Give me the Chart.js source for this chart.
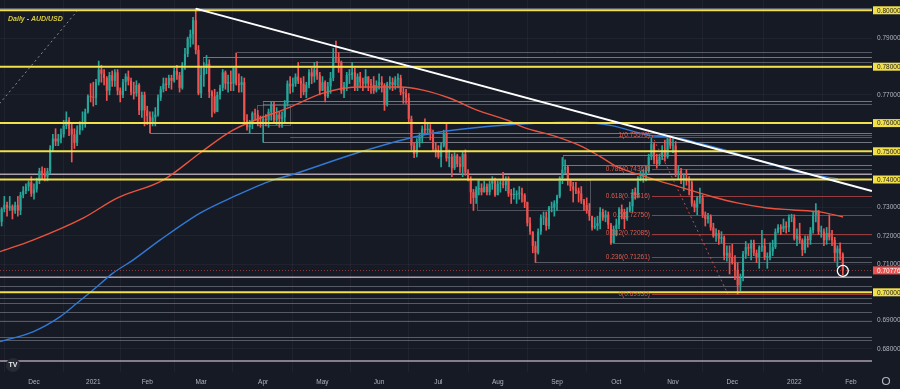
<!DOCTYPE html>
<html>
<head>
<meta charset="utf-8">
<script src="https://cdn.jsdelivr.net/npm/chart.js@4.4.1/dist/chart.umd.min.js"></script>
<style>
  html, body { margin: 0; padding: 0; background: #161a25; }
  canvas { display: block; }
</style>
</head>
<body>
<canvas id="chart" width="900" height="389"></canvas>
<script>
// AUD/USD daily bars, index 0 = 12 Nov 2020, last bar = 27 Jan 2022
// FX daily bars open at the previous close, so only the first open is given
const firstOpen = 0.7275;

const closes = [
  0.7250,0.7295,0.7310,0.7300,0.7305,0.7290,0.7310,0.7290,0.7345,0.7360,0.7375,0.7390,0.7350,
  0.7365,0.7395,0.7430,0.7420,0.7410,0.7430,0.7510,0.7545,0.7535,0.7545,0.7560,0.7590,0.7610,0.7580,0.7560,0.7530,0.7575,0.7595,0.7600,0.7640,0.7695,0.7692,
  0.7690,0.7745,0.7790,0.7775,0.7760,0.7715,0.7770,0.7750,0.7780,0.7715,0.7700,0.7745,0.7765,0.7750,0.7710,0.7705,0.7735,0.7645,0.7700,0.7645,
  0.7625,0.7605,0.7620,0.7630,0.7690,0.7720,0.7740,0.7735,0.7760,0.7750,0.7785,0.7770,0.7725,0.7805,0.7845,0.7900,0.7915,0.7965,0.7860,0.7705,
  0.7770,0.7800,0.7810,0.7710,0.7695,0.7640,0.7700,0.7725,0.7780,0.7740,0.7745,0.7740,0.7795,0.7740,0.7735,0.7745,0.7610,0.7585,0.7595,0.7635,0.7630,0.7605,0.7600,
  0.7615,0.7610,0.7640,0.7665,0.7610,0.7630,0.7615,0.7620,0.7670,0.7740,0.7730,0.7740,0.7765,0.7750,0.7740,0.7710,0.7735,0.7780,0.7765,0.7790,0.7770,0.7715,
  0.7745,0.7695,0.7730,0.7760,0.7835,0.7830,0.7815,0.7715,0.7730,0.7770,0.7770,0.7780,0.7730,0.7765,0.7745,0.7740,0.7765,0.7740,0.7735,0.7715,0.7735,
  0.7745,0.7735,0.7665,0.7740,0.7745,0.7735,0.7755,0.7760,0.7710,0.7705,0.7690,0.7615,0.7520,0.7490,0.7535,0.7550,0.7580,0.7575,0.7580,0.7565,0.7510,0.7500,
  0.7480,0.7520,0.7565,0.7475,0.7480,0.7440,0.7485,0.7455,0.7445,0.7490,0.7425,0.7400,0.7355,0.7335,0.7365,0.7370,0.7355,0.7375,0.7355,0.7385,0.7400,0.7345,
  0.7385,0.7385,0.7380,0.7395,0.7350,0.7345,0.7345,0.7350,0.7350,0.7345,0.7320,0.7245,0.7215,0.7165,0.7140,0.7215,0.7265,0.7265,0.7235,0.7300,0.7300,0.7315,
  0.7340,0.7405,0.7435,0.7445,0.7395,0.7375,0.7365,0.7360,0.7350,0.7325,0.7310,0.7290,0.7270,0.7230,0.7235,0.7245,0.7285,0.7265,0.7275,0.7240,0.7175,0.7225,
  0.7240,0.7295,0.7285,0.7260,0.7290,0.7305,0.7355,0.7345,0.7405,0.7410,0.7415,0.7430,0.7480,0.7525,0.7470,0.7455,0.7480,0.7505,0.7480,0.7545,0.7520,
  0.7520,0.7420,0.7430,0.7400,0.7405,0.7395,0.7390,0.7315,0.7300,0.7335,0.7335,0.7275,0.7260,0.7270,0.7230,0.7200,0.7210,0.7190,0.7195,0.7130,0.7140,0.7125,
  0.7105,0.7080,0.7025,0.7050,0.7135,0.7160,0.7155,0.7175,0.7140,0.7125,0.7160,0.7165,0.7125,0.7125,0.7145,0.7160,0.7215,0.7230,0.7225,0.7235,0.7230,0.7265,0.7265,
  0.7190,0.7200,0.7185,0.7150,0.7190,0.7185,0.7220,0.7275,0.7290,0.7215,0.7215,0.7185,0.7210,0.7195,0.7185,0.7140,0.7155,0.7135,0.70776
];

const highs = [
  0.7290,0.7300,0.7340,0.7320,0.7340,0.7310,0.7320,0.7340,0.7355,0.7375,0.7385,0.7395,0.7410,
  0.7385,0.7405,0.7440,0.7445,0.7440,0.7440,0.7520,0.7560,0.7580,0.7560,0.7580,0.7610,0.7640,0.7620,0.7600,0.7580,0.7590,0.7605,0.7640,0.7650,0.7700,0.7740,
  0.7745,0.7755,0.7820,0.7805,0.7790,0.7765,0.7780,0.7785,0.7790,0.7790,0.7725,0.7755,0.7775,0.7785,0.7760,0.7745,0.7750,0.7740,0.7710,0.7710,
  0.7660,0.7640,0.7640,0.7655,0.7700,0.7730,0.7760,0.7760,0.7770,0.7770,0.7795,0.7805,0.7780,0.7815,0.7865,0.7905,0.7930,0.7975,0.8007,0.7875,
  0.7800,0.7815,0.7840,0.7825,0.7715,0.7720,0.7710,0.7735,0.7790,0.7785,0.7770,0.7785,0.7800,0.7849,0.7775,0.7765,0.7760,0.7630,0.7610,0.7640,0.7650,0.7645,0.7625,
  0.7625,0.7630,0.7650,0.7675,0.7675,0.7655,0.7640,0.7640,0.7680,0.7750,0.7765,0.7760,0.7775,0.7815,0.7760,0.7765,0.7745,0.7790,0.7795,0.7815,0.7818,0.7780,
  0.7765,0.7750,0.7745,0.7780,0.7865,0.7891,0.7850,0.7820,0.7745,0.7780,0.7790,0.7815,0.7795,0.7775,0.7780,0.7760,0.7790,0.7765,0.7755,0.7765,0.7750,
  0.7775,0.7765,0.7740,0.7745,0.7765,0.7760,0.7765,0.7775,0.7770,0.7725,0.7720,0.7705,0.7625,0.7530,0.7545,0.7565,0.7590,0.7615,0.7600,0.7595,0.7575,0.7530,
  0.7520,0.7530,0.7575,0.7599,0.7505,0.7490,0.7495,0.7490,0.7480,0.7500,0.7505,0.7435,0.7410,0.7365,0.7375,0.7395,0.7385,0.7395,0.7385,0.7395,0.7410,0.7405,
  0.7395,0.7400,0.7425,0.7410,0.7410,0.7365,0.7370,0.7360,0.7375,0.7370,0.7350,0.7320,0.7265,0.7215,0.7180,0.7225,0.7275,0.7285,0.7285,0.7305,0.7320,0.7325,
  0.7345,0.7410,0.7478,0.7470,0.7450,0.7400,0.7390,0.7390,0.7370,0.7375,0.7330,0.7335,0.7315,0.7270,0.7265,0.7270,0.7300,0.7295,0.7290,0.7285,0.7245,0.7235,
  0.7260,0.7300,0.7310,0.7295,0.7300,0.7320,0.7365,0.7370,0.7410,0.7430,0.7435,0.7445,0.7490,0.7546,0.7530,0.7490,0.7490,0.7520,0.7540,0.7556,0.7555,
  0.7545,0.7535,0.7450,0.7440,0.7420,0.7435,0.7410,0.7395,0.7325,0.7340,0.7370,0.7345,0.7285,0.7280,0.7275,0.7245,0.7225,0.7220,0.7215,0.7200,0.7165,0.7165,
  0.7170,0.7130,0.7105,0.7065,0.7145,0.7180,0.7170,0.7185,0.7185,0.7150,0.7165,0.7220,0.7190,0.7140,0.7175,0.7185,0.7225,0.7240,0.7240,0.7260,0.7250,0.7275,0.7277,
  0.7275,0.7225,0.7245,0.7190,0.7200,0.7200,0.7230,0.7285,0.7315,0.7290,0.7235,0.7225,0.7230,0.7275,0.7220,0.7195,0.7165,0.7175,0.7140
];

const lows = [
  0.7235,0.7235,0.7285,0.7270,0.7290,0.7260,0.7280,0.7270,0.7275,0.7335,0.7350,0.7360,0.7340,
  0.7330,0.7355,0.7385,0.7400,0.7395,0.7395,0.7420,0.7500,0.7520,0.7520,0.7530,0.7550,0.7580,0.7555,0.7462,0.7510,0.7520,0.7560,0.7575,0.7585,0.7635,0.7675,
  0.7660,0.7665,0.7735,0.7745,0.7735,0.7680,0.7700,0.7730,0.7730,0.7700,0.7675,0.7690,0.7715,0.7735,0.7700,0.7685,0.7695,0.7630,0.7620,0.7590,
  0.7595,0.7565,0.7590,0.7590,0.7625,0.7680,0.7710,0.7715,0.7725,0.7720,0.7745,0.7755,0.7710,0.7720,0.7790,0.7835,0.7870,0.7880,0.7845,0.7700,
  0.7690,0.7730,0.7775,0.7690,0.7622,0.7635,0.7640,0.7685,0.7715,0.7720,0.7710,0.7715,0.7715,0.7735,0.7710,0.7710,0.7600,0.7575,0.7565,0.7580,0.7610,0.7590,0.7585,
  0.7532,0.7590,0.7585,0.7610,0.7600,0.7595,0.7585,0.7585,0.7605,0.7660,0.7705,0.7710,0.7730,0.7740,0.7690,0.7700,0.7690,0.7725,0.7740,0.7745,0.7755,0.7700,
  0.7715,0.7675,0.7690,0.7705,0.7750,0.7815,0.7780,0.7705,0.7690,0.7715,0.7740,0.7755,0.7715,0.7715,0.7725,0.7715,0.7725,0.7715,0.7705,0.7705,0.7710,
  0.7720,0.7710,0.7645,0.7660,0.7720,0.7715,0.7720,0.7725,0.7700,0.7670,0.7670,0.7605,0.7505,0.7477,0.7480,0.7515,0.7530,0.7565,0.7560,0.7540,0.7500,0.7480,
  0.7475,0.7445,0.7515,0.7465,0.7445,0.7410,0.7435,0.7445,0.7425,0.7410,0.7415,0.7395,0.7315,0.7290,0.7315,0.7345,0.7345,0.7355,0.7345,0.7345,0.7365,0.7340,
  0.7345,0.7355,0.7370,0.7360,0.7340,0.7315,0.7330,0.7315,0.7330,0.7320,0.7300,0.7235,0.7205,0.7140,0.7106,0.7135,0.7205,0.7240,0.7220,0.7225,0.7285,0.7270,
  0.7290,0.7335,0.7385,0.7420,0.7380,0.7360,0.7320,0.7350,0.7320,0.7315,0.7290,0.7280,0.7255,0.7220,0.7225,0.7220,0.7225,0.7255,0.7250,0.7225,0.7170,0.7175,
  0.7200,0.7225,0.7260,0.7225,0.7255,0.7285,0.7285,0.7330,0.7335,0.7395,0.7390,0.7395,0.7425,0.7470,0.7455,0.7440,0.7450,0.7470,0.7465,0.7475,0.7510,
  0.7495,0.7410,0.7400,0.7385,0.7360,0.7380,0.7345,0.7305,0.7285,0.7275,0.7315,0.7265,0.7235,0.7245,0.7220,0.7195,0.7180,0.7170,0.7175,0.7115,0.7110,0.7065,
  0.7100,0.7045,0.6993,0.7005,0.7040,0.7120,0.7130,0.7115,0.7130,0.7105,0.7085,0.7145,0.7115,0.7085,0.7115,0.7130,0.7155,0.7210,0.7205,0.7215,0.7210,0.7215,0.7250,
  0.7185,0.7165,0.7175,0.7130,0.7140,0.7160,0.7170,0.7210,0.7250,0.7205,0.7195,0.7165,0.7170,0.7185,0.7165,0.7110,0.7090,0.7115,0.7062
];

// moving averages: [bar index, price]
const ma100 = [
  [0.4,0.7144],[12.6,0.7185],[31.2,0.7263],[43.8,0.7334],[60.9,0.7398],[74.6,0.7494],[86.8,0.7575],
  [108,0.7657],[120.2,0.7706],[132.8,0.7728],[148.8,0.7728],[157.3,0.7717],[167.3,0.7688],[177.3,0.7646],
  [188.4,0.7611],[194.4,0.7586],[207,0.7551],[215.5,0.7520],[222.9,0.7482],[229.2,0.7446],[241.5,0.7405],
  [252.6,0.7373],[264.9,0.7338],[273.8,0.7317],[284.9,0.7299],[294.5,0.7292],[304.5,0.7285],[313.1,0.7267]
];
const ma200 = [
  [0.4,0.6825],[12.6,0.6860],[22.6,0.6913],[29,0.6962],[34.9,0.7008],[42.3,0.7068],[49.7,0.7114],
  [59.7,0.7185],[74.6,0.7281],[86.8,0.7338],[101.6,0.7398],[108,0.7415],[132.8,0.7494],[157.3,0.7558],
  [182.1,0.7589],[215.5,0.7603],[227.8,0.7590],[240.4,0.7558],[252.6,0.7546],[260,0.7528],[271.2,0.7499],
  [283.4,0.7463],[296,0.7428],[311.2,0.7402]
];

const monthTicks = [13, 35, 55, 75, 98, 120, 141, 163, 185, 207, 229, 250, 272, 295, 316];
const monthLabels = ['Dec', '2021', 'Feb', 'Mar', 'Apr', 'May', 'Jun', 'Jul', 'Aug', 'Sep', 'Oct', 'Nov', 'Dec', '2022', 'Feb'];
const priceTicks = [0.68, 0.69, 0.70, 0.71, 0.72, 0.73, 0.74, 0.75, 0.76, 0.77, 0.78, 0.79, 0.80];

// drawings
const keyLevels = [0.80, 0.78, 0.76, 0.75, 0.74, 0.70];
const greyLevels = [0.80082, 0.70223, 0.69787, 0.69631, 0.69291, 0.68993, 0.68404, 0.68309];
const brightLevels = [0.74184, 0.70532, 0.67564];
const greyRays = [
  [88.3,0.78511],[75.7,0.78355],[111.7,0.78167],[97.9,0.76784],[97.9,0.76667],[56,0.75649],
  [108,0.75507],[97.9,0.75340],[209.2,0.74869],[209.2,0.74514],[227.8,0.71748],[198.8,0.71085]
];
const boxes = [
  [56,330,0.7600,0.75649],[75.7,330,0.78355,0.7800],[95.7,108,0.7664,0.7593],[97.9,330,0.76784,0.7534],
  [177.3,219.2,0.7398,0.7292],[187,237.8,0.7424,0.7398],[209.2,330,0.74869,0.74514]
];
const fibStart = 242.2;
const fibRatios = [1, 0.786, 0.618, 0.5, 0.382, 0.236, 0];
const fibPrices = [0.75570, 0.74363, 0.73416, 0.72750, 0.72085, 0.71261, 0.69930];
const trendLine = [73, 0.8006, 323.8, 0.73592];
const fibDiagonal = [242.2, 0.7557, 270.4, 0.6993];
const oldDiagonal = [-1, 0.7655, 29.3, 0.8001];

const X_MIN = 0.39, X_MAX = 323.83;
const Y_MIN = 0.67174, Y_MAX = 0.80365;

const BG = '#161a25';
const GRID = 'rgba(255,255,255,0.045)';
const AXIS_TEXT = '#b2b5be';
const UP = '#26a69a';
const DOWN = '#ef5350';
const YELLOW = '#f2e04b';

Chart.defaults.font.family = "'Liberation Sans', Arial, sans-serif";
Chart.defaults.font.size = 6.5;

const opens = closes.map((c, i) => (i === 0 ? firstOpen : closes[i - 1]));
const isUp = i => closes[i] >= opens[i];
const candleColor = ctx => (isUp(ctx.dataIndex) ? UP : DOWN);

const bodies = closes.map((c, i) => ({ x: i, y: [opens[i], c] }));
const wicks = closes.map((c, i) => ({
  x: i,
  y: [Math.min(lows[i], opens[i], c), Math.max(highs[i], opens[i], c)]
}));

function line(ctx, x1, y1, x2, y2) {
  ctx.beginPath();
  ctx.moveTo(x1, y1);
  ctx.lineTo(x2, y2);
  ctx.stroke();
}
const crisp = v => Math.round(v) + 0.5;

// drop the label padding chart.js reserves, so the plot runs edge to edge
const noPadding = s => {
  s.paddingTop = 0; s.paddingBottom = 0; s.paddingLeft = 0; s.paddingRight = 0;
};

const drawings = {
  id: 'drawings',
  beforeDraw(chart) {
    const { ctx, width, height } = chart;
    ctx.save();
    ctx.fillStyle = BG;
    ctx.fillRect(0, 0, width, height);
    ctx.restore();
  },
  beforeDatasetsDraw(chart) {
    const { ctx, chartArea: a, scales: { x, y } } = chart;
    ctx.save();
    ctx.beginPath();
    ctx.rect(a.left, a.top, a.right - a.left, a.bottom - a.top);
    ctx.clip();

    ctx.strokeStyle = 'rgba(150,153,165,0.5)';
    ctx.lineWidth = 1;
    greyLevels.forEach(p => line(ctx, a.left, crisp(y.getPixelForValue(p)), a.right, crisp(y.getPixelForValue(p))));
    greyRays.forEach(([i, p]) => {
      const yy = crisp(y.getPixelForValue(p));
      line(ctx, x.getPixelForValue(i), yy, a.right, yy);
    });
    ctx.strokeStyle = 'rgba(150,153,165,0.45)';
    boxes.forEach(([i1, i2, p1, p2]) => {
      const x1 = crisp(x.getPixelForValue(i1)), x2 = crisp(x.getPixelForValue(i2));
      const y1 = crisp(y.getPixelForValue(p1)), y2 = crisp(y.getPixelForValue(p2));
      ctx.strokeRect(x1, y1, x2 - x1, y2 - y1);
    });

    ctx.strokeStyle = 'rgba(222,205,218,0.75)';
    ctx.lineWidth = 1.5;
    brightLevels.forEach(p => line(ctx, a.left, y.getPixelForValue(p), a.right, y.getPixelForValue(p)));

    // fib retracement levels
    ctx.strokeStyle = 'rgba(239,83,80,0.6)';
    ctx.lineWidth = 1;
    const fx = x.getPixelForValue(fibStart);
    fibPrices.forEach(p => line(ctx, fx, crisp(y.getPixelForValue(p)), a.right, crisp(y.getPixelForValue(p))));

    // last price line
    const last = closes[closes.length - 1];
    ctx.setLineDash([1, 2]);
    ctx.strokeStyle = 'rgba(239,83,80,0.55)';
    line(ctx, a.left, crisp(y.getPixelForValue(last)), a.right, crisp(y.getPixelForValue(last)));
    ctx.restore();
  },
  afterDatasetsDraw(chart) {
    const { ctx, chartArea: a, scales: { x, y } } = chart;
    const px = (i, p) => [x.getPixelForValue(i), y.getPixelForValue(p)];
    ctx.save();
    ctx.beginPath();
    ctx.rect(a.left, a.top, a.right - a.left, a.bottom - a.top);
    ctx.clip();

    ctx.strokeStyle = YELLOW;
    ctx.lineWidth = 2;
    keyLevels.forEach(p => line(ctx, a.left, y.getPixelForValue(p), a.right, y.getPixelForValue(p)));

    ctx.lineWidth = 1;
    ctx.setLineDash([2, 3]);
    ctx.strokeStyle = 'rgba(185,188,196,0.7)';
    line(ctx, ...px(oldDiagonal[0], oldDiagonal[1]), ...px(oldDiagonal[2], oldDiagonal[3]));
    ctx.strokeStyle = 'rgba(239,83,80,0.8)';
    line(ctx, ...px(fibDiagonal[0], fibDiagonal[1]), ...px(fibDiagonal[2], fibDiagonal[3]));
    ctx.setLineDash([]);

    ctx.strokeStyle = '#ffffff';
    ctx.lineWidth = 2;
    line(ctx, ...px(trendLine[0], trendLine[1]), ...px(trendLine[2], trendLine[3]));

    // fib labels
    ctx.font = "6.5px 'Liberation Sans', Arial, sans-serif";
    ctx.fillStyle = 'rgba(232,96,80,0.95)';
    ctx.textAlign = 'right';
    ctx.textBaseline = 'middle';
    const fx = x.getPixelForValue(fibStart) - 2;
    fibRatios.forEach((r, k) => {
      ctx.fillText(r + '(' + fibPrices[k].toFixed(5) + ')', fx, y.getPixelForValue(fibPrices[k]));
    });

    // marker round the last bar
    const lastIdx = closes.length - 1;
    ctx.strokeStyle = '#ffffff';
    ctx.lineWidth = 1.3;
    ctx.beginPath();
    ctx.arc(x.getPixelForValue(lastIdx), y.getPixelForValue(0.7076), 5.5, 0, Math.PI * 2);
    ctx.stroke();

    // title
    ctx.font = "italic bold 7px 'Liberation Sans', Arial, sans-serif";
    ctx.fillStyle = '#d8cc40';
    ctx.textAlign = 'left';
    ctx.fillText('Daily - AUD/USD', 8, 19.5);
    ctx.restore();

    // logo
    ctx.save();
    ctx.fillStyle = '#262a35';
    ctx.beginPath();
    ctx.arc(13, 365, 7, 0, Math.PI * 2);
    ctx.fill();
    ctx.fillStyle = '#e8e8ea';
    ctx.font = "bold 7px 'Liberation Sans', Arial, sans-serif";
    ctx.textAlign = 'center';
    ctx.textBaseline = 'middle';
    ctx.fillText('TV', 13, 365.5);
    ctx.restore();
  },
  afterDraw(chart) {
    const { ctx, chartArea: a, scales: { y } } = chart;
    ctx.save();
    ctx.font = "6.5px 'Liberation Sans', Arial, sans-serif";
    ctx.textAlign = 'left';
    ctx.textBaseline = 'middle';
    keyLevels.forEach(p => {
      const yy = y.getPixelForValue(p);
      ctx.fillStyle = YELLOW;
      ctx.fillRect(a.right + 1, yy - 4, 27, 8);
      ctx.fillStyle = '#1b1d24';
      ctx.fillText(p.toFixed(5), a.right + 5, yy + 0.5);
    });
    const last = closes[closes.length - 1];
    const ly = y.getPixelForValue(last);
    ctx.fillStyle = DOWN;
    ctx.fillRect(a.right + 1, ly - 4, 27, 8);
    ctx.fillStyle = '#ffffff';
    ctx.fillText(last.toFixed(5), a.right + 5, ly + 0.5);

    // settings icon
    ctx.strokeStyle = AXIS_TEXT;
    ctx.lineWidth = 1.2;
    ctx.beginPath();
    ctx.arc(886, 381, 3.5, 0, Math.PI * 2);
    ctx.stroke();
    ctx.restore();
  }
};

new Chart(document.getElementById('chart'), {
  type: 'bar',
  data: {
    datasets: [
      {
        type: 'line', data: ma100.map(([i, v]) => ({ x: i, y: v })),
        borderColor: '#e8533f', borderWidth: 1.4, pointRadius: 0,
        cubicInterpolationMode: 'monotone', order: 0
      },
      {
        type: 'line', data: ma200.map(([i, v]) => ({ x: i, y: v })),
        borderColor: '#3179d4', borderWidth: 1.4, pointRadius: 0,
        cubicInterpolationMode: 'monotone', order: 0
      },
      {
        data: bodies, backgroundColor: candleColor, grouped: false,
        barPercentage: 0.78, categoryPercentage: 1, minBarLength: 1, order: 1
      },
      {
        data: wicks, backgroundColor: candleColor, grouped: false,
        barThickness: 1, order: 2
      }
    ]
  },
  options: {
    responsive: false,
    animation: false,
    devicePixelRatio: 1,
    layout: { padding: 0 },
    plugins: { legend: { display: false }, tooltip: { enabled: false } },
    scales: {
      x: {
        type: 'linear', min: X_MIN, max: X_MAX, offset: false,
        grid: { color: GRID, drawTicks: false },
        border: { display: false },
        ticks: {
          color: AXIS_TEXT, padding: 6, autoSkip: false, maxRotation: 0,
          callback: (v, i) => monthLabels[i]
        },
        afterBuildTicks: s => { s.ticks = monthTicks.map(v => ({ value: v })); },
        afterFit: s => { s.height = 17; noPadding(s); }
      },
      y: {
        position: 'right', min: Y_MIN, max: Y_MAX,
        grid: { color: GRID, drawTicks: false },
        border: { display: false },
        ticks: { color: AXIS_TEXT, padding: 5, callback: v => v.toFixed(5) },
        afterBuildTicks: s => { s.ticks = priceTicks.map(v => ({ value: v })); },
        afterFit: s => { s.width = 28; noPadding(s); }
      }
    }
  },
  plugins: [drawings]
});
</script>
</body>
</html>
